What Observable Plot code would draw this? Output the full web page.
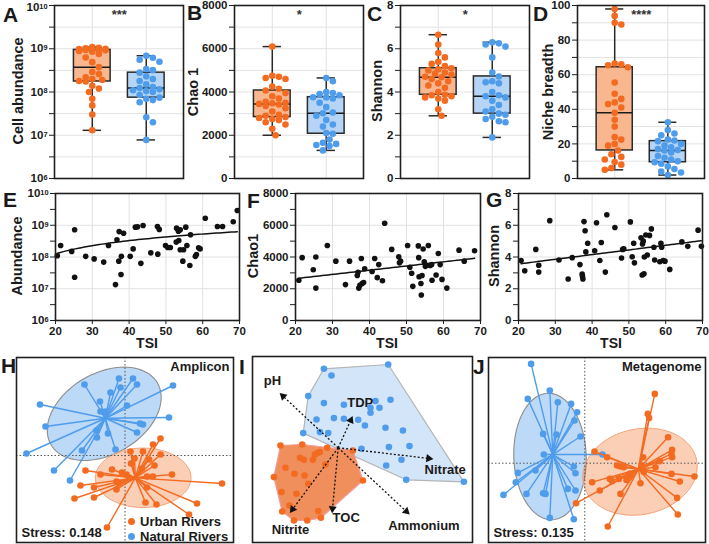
<!DOCTYPE html>
<html>
<head>
<meta charset="utf-8">
<script src="https://cdn.jsdelivr.net/npm/d3@7"></script>
<script src="https://cdn.jsdelivr.net/npm/@observablehq/plot@0.6"></script>
<style>
  body { margin: 0; background: #fff; }
  #fig { position: relative; width: 709px; height: 544px; overflow: hidden;
         font-family: "Liberation Sans", Arial, sans-serif; color: #1a1a1a; }
  .letter { position: absolute; font-weight: bold; font-size: 21px; line-height: 1; }
  .ytitle { position: absolute; font-weight: bold; font-size: 14.5px; white-space: nowrap; line-height: 1;
            transform: translate(-50%, -50%) rotate(-90deg); }
  .xtitle { position: absolute; font-weight: bold; font-size: 14px; line-height: 1; transform: translate(-50%, -50%); }
  .legend { position: absolute; font-weight: bold; font-size: 13px; line-height: 15px; }
  .legend span.sw { display: inline-block; width: 7px; height: 7px; border-radius: 50%; margin-right: 5px; vertical-align: 1px; }
</style>
</head>
<body>
<div id="fig"></div>
<script>
// ---------- group colours ----------
const groups = ["Urban Rivers", "Natural Rivers"];
const colorUrban = "#F26B21", colorNatural = "#4F9CEB";
const boxFillUrban = "#F8B78F", boxFillNatural = "#B5D4F6";

// ---------- A–D: per-site values by river type ----------
const cellUrban = [1.3e7, 3.0e7, 4.9e7, 7.0e7, 1.0e8, 1.2e8, 1.4e8, 1.75e8, 1.8e8, 1.9e8, 2.0e8, 2.2e8, 2.6e8, 2.9e8, 3.75e8, 4.9e8, 6.3e8, 7.6e8, 8.5e8, 8.9e8, 9.2e8, 9.4e8, 9.5e8, 9.6e8, 9.8e8, 1.0e9, 1.02e9, 1.05e9, 1.09e9];
const cellNatural = [7.8e6, 2.0e7, 2.6e7, 5.8e7, 6.5e7, 7.0e7, 7.4e7, 8.5e7, 1.0e8, 1.05e8, 1.1e8, 1.15e8, 1.23e8, 1.3e8, 1.5e8, 1.8e8, 2.0e8, 2.3e8, 2.8e8, 3.2e8, 3.4e8, 5.0e8, 5.6e8, 6.2e8, 6.9e8];
const chaoUrban = [2000, 2300, 2500, 2600, 2700, 2750, 2800, 2840, 2900, 2950, 3100, 3250, 3350, 3420, 3450, 3480, 3500, 3550, 3700, 3800, 3950, 4070, 4150, 4250, 4600, 4650, 4700, 4750, 6100];
const chaoNatural = [1300, 1500, 1550, 1600, 1650, 1800, 2070, 2100, 2400, 2500, 2700, 2900, 3020, 3050, 3300, 3500, 3700, 3750, 3760, 3850, 3900, 3950, 4000, 4500, 4650];
const shannonUrban = [2.9, 3.2, 3.6, 3.7, 3.75, 3.8, 3.85, 3.87, 4.0, 4.2, 4.3, 4.4, 4.5, 4.6, 4.68, 4.7, 4.8, 4.85, 4.9, 5.0, 5.05, 5.1, 5.2, 5.3, 5.4, 5.6, 5.8, 6.2, 6.65];
const shannonNatural = [1.9, 2.6, 2.65, 2.75, 2.85, 2.95, 3.0, 3.1, 3.2, 3.4, 3.6, 3.75, 3.8, 3.85, 4.0, 4.4, 4.45, 4.5, 4.72, 4.9, 5.6, 6.1, 6.2, 6.25, 6.3];
const nicheUrban = [5, 6, 8, 9.5, 11, 12.5, 14, 16.2, 19, 20, 22.5, 24, 30, 34, 38, 41, 43, 44, 46, 49, 55.5, 64.3, 65.5, 66, 66.5, 89, 90, 94, 98];
const nicheNatural = [2, 3.5, 4, 5.5, 7, 8.5, 9.4, 10, 11, 12, 13, 15, 16.2, 16.5, 17, 18, 19, 20, 21.6, 22, 22.5, 25, 26, 28, 32.5];
const significance = ["***", "*", "*", "****"];

// ---------- E–G: diversity against trophic state index ----------
const tsiE = [20.5, 21.4, 24.4, 25.2, 25.2, 28.2, 30.5, 33.1, 34.4, 36.3, 36.7, 37.2, 37.3, 37.8, 37.9, 38.5, 40.3, 41.1, 41.7, 42.3, 43.2, 43.8, 45.9, 47.7, 47.8, 48.2, 49.9, 50.5, 51.2, 52.8, 52.9, 53.4, 53.5, 53.9, 53.9, 54.6, 54.8, 55.4, 55.7, 56.5, 56.7, 58.0, 58.3, 58.9, 59.3, 60.7, 64.0, 65.4, 68.3, 69.4];
const abundanceE = [1.1e8, 2.3e8, 1.5e8, 2.3e7, 7.2e8, 1.05e8, 8.7e7, 6.9e7, 2.3e8, 1.35e7, 3.5e8, 7.4e7, 6.3e8, 2.8e7, 1.05e8, 5.6e8, 1.05e8, 1.8e8, 8.7e8, 8.9e8, 6.3e7, 9.8e8, 1.35e8, 9.1e8, 1.23e8, 7.4e8, 2.3e8, 2.0e8, 2.0e8, 2.95e8, 8.1e8, 6.5e8, 3.3e8, 7.2e8, 1.7e8, 7.4e7, 1.7e8, 8.7e8, 2.3e8, 5.4e7, 5.0e8, 1.05e8, 1.2e8, 1.95e8, 1.8e8, 1.66e9, 9.1e8, 9.1e8, 1.29e9, 2.9e9];
const tsiF = [20.9, 21.8, 24.8, 25.5, 25.5, 28.6, 30.9, 33.5, 34.6, 36.7, 36.9, 37.1, 37.4, 37.8, 38.0, 38.4, 38.7, 40.7, 41.4, 42.1, 42.5, 43.5, 44.1, 46.0, 47.9, 48.1, 48.4, 50.3, 50.9, 51.4, 51.7, 53.2, 53.3, 53.4, 53.9, 54.0, 54.2, 54.5, 54.8, 55.1, 55.4, 55.9, 56.4, 56.8, 56.9, 58.0, 58.6, 59.1, 59.6, 60.9, 64.2, 65.6, 68.4];
const chaoF = [2540, 3960, 3200, 4000, 2040, 4720, 3740, 2260, 3740, 2830, 3040, 2040, 2220, 3910, 2330, 2390, 3260, 3090, 3910, 2700, 3520, 2500, 6130, 4480, 4020, 3630, 3740, 4720, 3350, 2980, 2150, 4700, 3960, 2760, 2330, 1610, 2830, 4500, 3700, 3410, 3480, 4720, 3460, 3520, 2540, 2870, 4220, 3520, 2590, 2040, 4430, 3740, 4390];
const tsiG = [20.7, 21.7, 24.7, 25.5, 25.5, 28.5, 31.0, 33.5, 34.6, 36.7, 37.3, 37.4, 37.5, 37.8, 38.1, 38.3, 38.8, 40.7, 41.2, 42.1, 42.5, 43.6, 44.0, 46.2, 48.0, 48.3, 48.6, 50.4, 50.9, 51.3, 51.5, 53.3, 53.6, 53.7, 53.9, 54.1, 54.2, 54.6, 55.0, 55.6, 56.1, 56.8, 57.0, 58.4, 58.7, 58.9, 59.3, 59.8, 61.1, 64.4, 66.0, 68.8, 69.7];
const shannonG = [3.78, 3.13, 4.48, 3.48, 3.05, 6.29, 3.81, 2.61, 3.96, 3.52, 2.92, 2.77, 2.61, 6.23, 5.65, 4.32, 4.87, 4.39, 6.16, 3.78, 4.91, 3.05, 6.66, 5.86, 3.94, 4.48, 4.52, 6.21, 4.02, 4.87, 3.63, 5.21, 2.87, 4.82, 5.0, 2.94, 4.0, 5.39, 4.13, 5.36, 5.77, 4.61, 3.81, 3.70, 4.87, 4.61, 3.78, 3.74, 3.22, 4.95, 4.67, 5.69, 4.67];
// linear trend lines (E, F, G): value = intercept + slope * TSI
const trendIntercept = [-7.56e7, 2112, 2.97];
const trendSlope = [1.008e7, 26.4, 0.0295];

// ---------- H: amplicon NMDS scores ----------
const ampUrbanX = [0.355, 0.28, 0.18, 0.355, 0.055, 0.095, 0.06, 0.24, 0.295, 0.17, -0.13, -0.03, -0.395, -0.245, 0.015, 0.22, 0.28, 0.47, 0.04, -0.085, -0.06, -0.445, -0.31, -0.505, -0.31, -0.085, 0.22, 0.205, 0.315, 0.72, 0.64, -0.18, 0.97];
const ampUrbanY = [0.17, 0.11, 0.04, 0.01, 0.04, -0.03, -0.08, -0.04, -0.10, -0.13, -0.14, -0.17, -0.15, -0.19, -0.19, -0.21, -0.21, -0.19, -0.22, -0.26, -0.28, -0.30, -0.32, -0.43, -0.42, -0.34, -0.32, -0.47, -0.49, -0.48, -0.59, -0.72, -0.28];
const ampNaturalX = [-0.405, -0.25, -0.245, -0.195, -0.145, -0.06, -0.045, 0.08, 0.12, 0.02, 0.48, 0.44, 0.15, 0.18, 0.12, -0.095, -0.17, -0.28, -0.43, -0.55, -0.71, -0.985, -0.795, -0.85, -0.285];
const ampNaturalY = [0.71, 0.54, 0.44, 0.44, 0.63, 0.77, 0.68, 0.77, 0.71, 0.50, 0.70, 0.38, 0.32, 0.31, 0.23, 0.06, 0.22, 0.18, 0.05, -0.25, -0.15, 0.02, 0.29, 0.51, 0.25];
// group ellipses: centre x, centre y, semi-axis a, semi-axis b, rotation (deg)
const ampEllipseUrban = [0.182, -0.223, 0.478, 0.297, 0];
const ampEllipseNatural = [-0.208, 0.417, 0.615, 0.405, 30];

// ---------- I: constrained ordination with environmental vectors ----------
const ordUrbanX = [-0.577, -0.36, -0.11, 0.147, -0.21, -0.183, -0.233, -0.253, -0.127, -0.527, -0.383, -0.343, -0.643, -0.437, -0.337, 0.247, -0.3, -0.567, -0.417, -0.487, -0.56, -0.443, -0.31, -0.173, -0.2];
const ordUrbanY = [0.023, 0.033, 0, -0.027, -0.053, -0.043, -0.067, -0.12, -0.167, -0.2, -0.1, -0.12, -0.293, -0.26, -0.277, -0.327, -0.36, -0.443, -0.46, -0.577, -0.637, -0.727, -0.727, -0.7, -0.633];
const ordNaturalX = [-0.143, -0.067, 0.5, -0.3, -0.143, 0.057, 0.373, 0.523, 0.323, 0.413, 0.323, -0.217, -0.043, 0.057, 0.2, 0.267, 0.473, 0.647, -0.35, -0.183, -0.1, 0.233, 0.507, 0.713, 0.633, 0.48, 0.68, 1.257];
const ordNaturalY = [0.79, 0.723, 0.833, 0.517, 0.447, 0.43, 0.467, 0.48, 0.4, 0.4, 0.35, 0.283, 0.297, 0.29, 0.28, 0.223, 0.2, 0.173, 0.147, 0.157, 0.147, -0.01, 0.007, 0.017, -0.12, -0.177, -0.32, -0.34];
const envNames = ["pH", "TDP", "Nitrate", "Ammonium", "TOC", "Nitrite"];
const envX = [-0.577, 0.14, 0.94, 0.707, -0.06, -0.477];
const envY = [0.54, 0.307, -0.11, -0.66, -0.643, -0.643];

// ---------- J: metagenome NMDS scores ----------
const metaUrbanX = [0.7, 0.63, 0.643, 0.833, 0.873, 0.867, 0.873, 0.75, 0.583, 0.573, 0.59, 0.707, 0.097, 0.223, 0.323, 0.357, 0.39, 0.45, 0.25, 0.273, 0.34, 0.417, 0.457, 0.073, 0.15, 0.357, 0.867, 0.95, 1.097, 0.557, -0.087, 0.923, 0.93, 0.23];
const metaUrbanY = [0.693, 0.493, 0.453, 0.26, 0.133, 0.093, 0.06, 0.02, 0.06, -0.023, -0.087, -0.04, 0.117, 0.06, -0.023, -0.033, -0.04, -0.107, -0.157, -0.18, -0.157, -0.167, -0.133, -0.19, -0.273, -0.307, -0.107, -0.183, -0.133, -0.2, -0.4, -0.347, -0.513, -0.633];
const metaNaturalX = [-0.537, -0.35, -0.57, -0.27, -0.137, -0.077, -0.103, -0.417, -0.283, -0.043, -0.41, 0.177, -0.11, -0.67, -0.493, -0.093, -0.69, -0.813, -0.583, -0.417, -0.393, -0.17, -0.093, -0.35, -0.11];
const metaNaturalY = [0.993, 0.727, 0.643, 0.61, 0.593, 0.51, 0.427, 0.293, 0.287, 0.267, 0.087, 0.087, -0.033, -0.097, -0.073, -0.1, -0.19, -0.317, -0.307, -0.3, -0.307, -0.257, -0.273, -0.547, -0.56];
const metaEllipseUrban = [0.552, -0.085, 0.578, 0.428, 12];
const metaEllipseNatural = [-0.348, 0.067, 0.633, 0.362, 92];

// ================= drawing =================
const fig = document.getElementById("fig");
const baseStyle = { fontFamily: '"Liberation Sans", Arial, sans-serif', fontSize: "11.5px", fontWeight: "bold",
                    color: "#1a1a1a", background: "transparent", overflow: "visible" };
const gridColor = "#e2e2e2", frameColor = "#1f1f1f";

function place(node, left, top) {
  node.style.position = "absolute";
  node.style.left = left + "px";
  node.style.top = top + "px";
  fig.appendChild(node);
}
function addDiv(cls, text, left, top) {
  const d = document.createElement("div");
  d.className = cls; d.textContent = text;
  d.style.left = left + "px"; d.style.top = top + "px";
  fig.appendChild(d);
  return d;
}
// turn "10^n" tick labels into 10 with a raised exponent; topShift nudges the top label down
function superscriptTicks(svg, topShift = 0) {
  d3.select(svg).selectAll('g[aria-label="y-axis tick label"] text').each(function () {
    const m = /^10\^(\d+)$/.exec(this.textContent);
    if (m) {
      const t = d3.select(this);
      t.text("10");
      t.append("tspan").attr("dy", "-0.32em").attr("font-size", "0.64em").text(m[1]);
      if (m[1] === "10" && topShift) t.attr("transform", (t.attr("transform") || "") + ` translate(0,${topShift})`);
    }
  });
}
const logFmt = d => Number.isInteger(Math.round(Math.log10(d) * 1000) / 1000) ? "10^" + Math.round(Math.log10(d)) : "";
const halfDecades = d3.range(6, 10.01, 0.5).map(e => Math.pow(10, e));
const decades = d3.range(6, 11).map(e => Math.pow(10, e));

// deterministic beeswarm offsets (pixels) so dots do not overlap
function swarm(py, r, maxOff) {
  const order = d3.range(py.length).sort((a, b) => py[a] - py[b]);
  const cands = [0];
  for (let k = 1; k * 3.3 <= maxOff; k++) cands.push(k * 3.3, -k * 3.3);
  const placed = [], off = new Array(py.length);
  for (const i of order) {
    let best = 0, bestOv = Infinity;
    for (const c of cands) {
      let ov = 0;
      for (const p of placed) {
        const d = Math.hypot(p.x - c, p.y - py[i]);
        if (d < 2 * r) ov += 2 * r - d;
      }
      if (ov === 0) { best = c; bestOv = 0; break; }
      if (ov < bestOv) { bestOv = ov; best = c; }
    }
    off[i] = best; placed.push({ x: best, y: py[i] });
  }
  return off;
}

// ---------- box + dot panels ----------
function boxPanel(cfg) {
  const { left, top, width, height, ml, mt, mr, mb, yType, yDomain, ticks, grid, fmt, series, sig, topShift } = cfg;
  const innerW = width - ml - mr, innerH = height - mt - mb;
  const xDom = [-0.7, 1.69];
  const yS = (yType === "log" ? d3.scaleLog() : d3.scaleLinear()).domain(yDomain).range([innerH, 0]);
  const pxPerUnit = innerW / (xDom[1] - xDom[0]);
  const boxes = [], dots = [];
  series.forEach((s, i) => {
    const v = s.values.slice().sort(d3.ascending);
    boxes.push({ i, min: v[0], q1: d3.quantile(v, 0.25), med: d3.quantile(v, 0.5), q3: d3.quantile(v, 0.75),
                 max: v[v.length - 1], fill: s.fill });
    const off = swarm(s.values.map(yS), 3.3, 15);
    s.values.forEach((val, j) => dots.push({ x: i + off[j] / pxPerUnit, y: val, color: s.color }));
  });
  const svg = Plot.plot({
    width, height, marginLeft: ml, marginRight: mr, marginTop: mt, marginBottom: mb,
    style: baseStyle,
    x: { domain: xDom, axis: null },
    y: { type: yType, domain: yDomain, axis: null },
    color: { type: "identity" },
    marks: [
      Plot.gridY(grid, { stroke: gridColor, strokeOpacity: 1 }),
      Plot.gridX([0, 1], { stroke: gridColor, strokeOpacity: 1 }),
      Plot.ruleX(boxes, { x: "i", y1: "min", y2: "max", stroke: "#2a2a2a", strokeWidth: 1.5 }),
      Plot.ruleY(boxes, { y: "min", x1: d => d.i - 0.17, x2: d => d.i + 0.17, stroke: "#2a2a2a", strokeWidth: 1.5 }),
      Plot.ruleY(boxes, { y: "max", x1: d => d.i - 0.17, x2: d => d.i + 0.17, stroke: "#2a2a2a", strokeWidth: 1.5 }),
      Plot.rect(boxes, { x1: d => d.i - 0.34, x2: d => d.i + 0.34, y1: "q1", y2: "q3", fill: "fill",
                         stroke: "#2a2a2a", strokeWidth: 1.5 }),
      Plot.ruleY(boxes, { y: "med", x1: d => d.i - 0.34, x2: d => d.i + 0.34, stroke: "#1a1a1a", strokeWidth: 1.5 }),
      Plot.dot(dots, { x: "x", y: "y", r: 3.3, fill: "color" }),
      Plot.text([sig], { x: () => 0.5, frameAnchor: "top", text: d => d, lineAnchor: "top", dy: 4,
                         fontSize: 13, fill: "#333" }),
      Plot.axisY({ ticks, tickFormat: fmt, tickSize: 5, tickPadding: 2, label: null, stroke: frameColor }),
      Plot.frame({ stroke: frameColor, strokeWidth: 1.6 })
    ]
  });
  superscriptTicks(svg, topShift || 0);
  place(svg, left, top);
}

const pair = (u, n) => [
  { values: u, color: colorUrban, fill: boxFillUrban },
  { values: n, color: colorNatural, fill: boxFillNatural }
];

boxPanel({ left: 0, top: 0, width: 186, height: 182, ml: 54, mt: 5, mr: 3, mb: 4, yType: "log", yDomain: [1e6, 1e10],
           ticks: halfDecades, grid: halfDecades, fmt: logFmt, series: pair(cellUrban, cellNatural), sig: significance[0],
           topShift: 2 });
boxPanel({ left: 180, top: 0, width: 186, height: 182, ml: 54, mt: 5, mr: 3, mb: 4, yType: "linear", yDomain: [0, 8000],
           ticks: d3.range(0, 8001, 1000), grid: d3.range(1000, 8000, 1000), fmt: d => d % 2000 === 0 ? String(d) : "",
           series: pair(chaoUrban, chaoNatural), sig: significance[1] });
boxPanel({ left: 346, top: 0, width: 186, height: 182, ml: 54, mt: 5, mr: 3, mb: 4, yType: "linear", yDomain: [0, 8],
           ticks: d3.range(0, 9), grid: d3.range(1, 8), fmt: d => d % 2 === 0 ? String(d) : "",
           series: pair(shannonUrban, shannonNatural), sig: significance[2] });
boxPanel({ left: 523, top: 0, width: 184, height: 182, ml: 54, mt: 5, mr: 3, mb: 4, yType: "linear", yDomain: [0, 100],
           ticks: d3.range(0, 101, 10), grid: d3.range(10, 100, 10), fmt: d => d % 20 === 0 ? String(d) : "",
           series: pair(nicheUrban, nicheNatural), sig: significance[3] });

// ---------- scatter + trend panels ----------
function scatterPanel(cfg) {
  const { left, top, width, height, ml, mt, mr, mb, yType, yDomain, ticks, grid, fmt, xs, ys, k } = cfg;
  const pts = xs.map((x, i) => ({ x, y: ys[i] }));
  const [x0, x1] = d3.extent(xs);
  const trend = d3.range(0, 61).map(j => {
    const x = x0 + (x1 - x0) * j / 60;
    return { x, y: trendIntercept[k] + trendSlope[k] * x };
  });
  const svg = Plot.plot({
    width, height, marginLeft: ml, marginRight: mr, marginTop: mt, marginBottom: mb,
    style: baseStyle,
    x: { domain: [20, 70], axis: null },
    y: { type: yType, domain: yDomain, axis: null },
    marks: [
      Plot.gridY(grid, { stroke: gridColor, strokeOpacity: 1 }),
      Plot.gridX([30, 40, 50, 60], { stroke: gridColor, strokeOpacity: 1 }),
      Plot.dot(pts, { x: "x", y: "y", r: 2.8, fill: "#111" }),
      Plot.line(trend, { x: "x", y: "y", stroke: "#111", strokeWidth: 1.5 }),
      Plot.axisY({ ticks, tickFormat: fmt, tickSize: 5, tickPadding: 2, label: null, stroke: frameColor }),
      Plot.axisX({ ticks: [20, 30, 40, 50, 60, 70], tickFormat: d => String(d), tickSize: 4, tickPadding: 2,
                   label: null, stroke: frameColor }),
      Plot.frame({ stroke: frameColor, strokeWidth: 1.6 })
    ]
  });
  superscriptTicks(svg);
  place(svg, left, top);
}

scatterPanel({ left: 0, top: 186, width: 242, height: 154, ml: 55, mt: 7, mr: 3, mb: 20, yType: "log", yDomain: [1e6, 1e10],
               ticks: halfDecades, grid: decades.slice(1, 4), fmt: logFmt, xs: tsiE, ys: abundanceE, k: 0 });
scatterPanel({ left: 240, top: 186, width: 243, height: 154, ml: 55, mt: 7, mr: 3, mb: 20, yType: "linear", yDomain: [0, 8000],
               ticks: d3.range(0, 8001, 1000), grid: [2000, 4000, 6000], fmt: d => d % 2000 === 0 ? String(d) : "",
               xs: tsiF, ys: chaoF, k: 1 });
scatterPanel({ left: 463, top: 186, width: 242, height: 154, ml: 55, mt: 7, mr: 3, mb: 20, yType: "linear", yDomain: [0, 8],
               ticks: d3.range(0, 9), grid: [2, 4, 6], fmt: d => d % 2 === 0 ? String(d) : "",
               xs: tsiG, ys: shannonG, k: 2 });

// ---------- ordination panels ----------
function ellipsePath(p) {
  const [cx, cy, a, b, deg] = p, t0 = deg * Math.PI / 180;
  return d3.range(0, 96).map(j => {
    const t = j / 96 * 2 * Math.PI;
    return { x: cx + a * Math.cos(t0) * Math.cos(t) - b * Math.sin(t0) * Math.sin(t),
             y: cy + a * Math.sin(t0) * Math.cos(t) + b * Math.cos(t0) * Math.sin(t) };
  });
}
function spiderLinks(xs, ys) {
  const cx = d3.mean(xs), cy = d3.mean(ys);
  return xs.map((x, i) => ({ x1: cx, y1: cy, x2: x, y2: ys[i] }));
}
const toPts = (xs, ys) => xs.map((x, i) => ({ x, y: ys[i] }));

function spiderPanel(cfg) {
  const { left, top, width, height, ml, mt, mr, mb, xDomain, yDomain, uX, uY, nX, nY, eU, eN, title, stress } = cfg;
  const svg = Plot.plot({
    width, height, marginLeft: ml, marginRight: mr, marginTop: mt, marginBottom: mb,
    style: baseStyle,
    x: { domain: xDomain, axis: null },
    y: { domain: yDomain, axis: null },
    marks: [
      Plot.line(ellipsePath(eN), { x: "x", y: "y", curve: "linear-closed", fill: colorNatural, fillOpacity: 0.38,
                                   stroke: "#8c8c8c", strokeWidth: 1.1 }),
      Plot.line(ellipsePath(eU), { x: "x", y: "y", curve: "linear-closed", fill: colorUrban, fillOpacity: 0.33,
                                   stroke: "#f3a47c", strokeWidth: 1 }),
      Plot.ruleX([0], { stroke: "#555", strokeDasharray: "1.5,2" }),
      Plot.ruleY([0], { stroke: "#555", strokeDasharray: "1.5,2" }),
      Plot.link(spiderLinks(nX, nY), { x1: "x1", y1: "y1", x2: "x2", y2: "y2", stroke: colorNatural, strokeWidth: 1.4 }),
      Plot.dot(toPts(nX, nY), { x: "x", y: "y", r: 3.3, fill: colorNatural }),
      Plot.link(spiderLinks(uX, uY), { x1: "x1", y1: "y1", x2: "x2", y2: "y2", stroke: colorUrban, strokeWidth: 1.4 }),
      Plot.dot(toPts(uX, uY), { x: "x", y: "y", r: 3.3, fill: colorUrban }),
      Plot.text([title], { frameAnchor: "top-right", text: d => d, textAnchor: "end", lineAnchor: "middle",
                           dx: -4, dy: 9, fontSize: 13, fill: "#1a1a1a" }),
      Plot.text([stress], { frameAnchor: "bottom-left", text: d => d, textAnchor: "start", lineAnchor: "middle",
                            dx: 5, dy: -9.5, fontSize: 13, fill: "#1a1a1a" }),
      Plot.frame({ stroke: frameColor, strokeWidth: 1.6 })
    ]
  });
  place(svg, left, top);
}

spiderPanel({ left: 10, top: 350, width: 226, height: 194, ml: 6, mt: 7, mr: 3, mb: 2,
              xDomain: [-1.085, 1.085], yDomain: [-0.87, 0.98],
              uX: ampUrbanX, uY: ampUrbanY, nX: ampNaturalX, nY: ampNaturalY,
              eU: ampEllipseUrban, eN: ampEllipseNatural, title: "Amplicon", stress: "Stress: 0.148" });
spiderPanel({ left: 482, top: 350, width: 226, height: 194, ml: 6, mt: 7, mr: 3, mb: 2,
              xDomain: [-0.963, 1.207], yDomain: [-0.793, 1.057],
              uX: metaUrbanX, uY: metaUrbanY, nX: metaNaturalX, nY: metaNaturalY,
              eU: metaEllipseUrban, eN: metaEllipseNatural, title: "Metagenome", stress: "Stress: 0.135" });

// panel I: convex hulls of each group with environmental vectors
(function () {
  const hullU = d3.polygonHull(ordUrbanX.map((x, i) => [x, ordUrbanY[i]])).map(([x, y]) => ({ x, y }));
  const hullN = d3.polygonHull(ordNaturalX.map((x, i) => [x, ordNaturalY[i]])).map(([x, y]) => ({ x, y }));
  const env = envNames.map((name, i) => {
    const len = Math.hypot(envX[i], envY[i]);
    const back = 1 - 0.035 / len;
    return { name, x: envX[i], y: envY[i], hx: envX[i] * back, hy: envY[i] * back,
             rot: Math.atan2(envX[i], envY[i]) * 180 / Math.PI };
  });
  // label placement around each arrow tip (px)
  const labelOffset = { pH: [-8, -13], TDP: [8, -14], Nitrate: [13, 11], Ammonium: [15, 12], TOC: [14, 6], Nitrite: [0, 18] };
  const svg = Plot.plot({
    width: 229, height: 194, marginLeft: 6, marginRight: 3, marginTop: 6, marginBottom: 2,
    style: baseStyle,
    x: { domain: [-0.857, 1.343], axis: null },
    y: { domain: [-0.947, 0.913], axis: null },
    marks: [
      Plot.line(hullN, { x: "x", y: "y", curve: "linear-closed", fill: "#d3e5f9", stroke: "#b5b5b5", strokeWidth: 1.2 }),
      Plot.line(hullU, { x: "x", y: "y", curve: "linear-closed", fill: "#F08E5C", stroke: "#f39a9a", strokeWidth: 1.2 }),
      Plot.dot(toPts(ordNaturalX, ordNaturalY), { x: "x", y: "y", r: 3.3, fill: colorNatural }),
      Plot.dot(toPts(ordUrbanX, ordUrbanY), { x: "x", y: "y", r: 3.3, fill: colorUrban }),
      Plot.link(env, { x1: () => 0, y1: () => 0, x2: "hx", y2: "hy", stroke: "#111", strokeWidth: 1.3,
                       strokeDasharray: "2,2" }),
      Plot.dot(env, { x: "hx", y: "hy", symbol: "triangle", r: 3, rotate: "rot", fill: "#111" }),
      ...env.map(e => Plot.text([e], { x: "x", y: "y", text: "name", dx: labelOffset[e.name][0],
                                       dy: labelOffset[e.name][1], fontSize: 13, fill: "#1a1a1a" })),
      Plot.frame({ stroke: frameColor, strokeWidth: 1.6 })
    ]
  });
  place(svg, 246, 350);
})();

// ---------- panel letters and axis titles ----------
[["A", 3, 4], ["B", 187, 2], ["C", 367, 3], ["D", 533, 3], ["E", 3, 189], ["F", 247, 190], ["G", 486, 189],
 ["H", 1, 355], ["I", 239, 356], ["J", 473, 356]].forEach(([t, x, y]) => addDiv("letter", t, x, y));
[["Cell abundance", 18, 91], ["Chao 1", 193, 92], ["Shannon", 377, 91], ["Niche breadth", 548, 92],
 ["Abundance", 17, 256], ["Chao1", 253, 256], ["Shannon", 494, 256]].forEach(([t, x, y]) => addDiv("ytitle", t, x, y));
[[147, 343], [387, 343], [611, 343]].forEach(([x, y]) => addDiv("xtitle", "TSI", x, y));

// legend for the amplicon panel
const leg = document.createElement("div");
leg.className = "legend";
leg.style.left = "128px"; leg.style.top = "514px";
leg.innerHTML = groups.map((g, i) =>
  `<div><span class="sw" style="background:${i === 0 ? colorUrban : colorNatural}"></span>${g}</div>`).join("");
fig.appendChild(leg);
</script>
</body>
</html>
